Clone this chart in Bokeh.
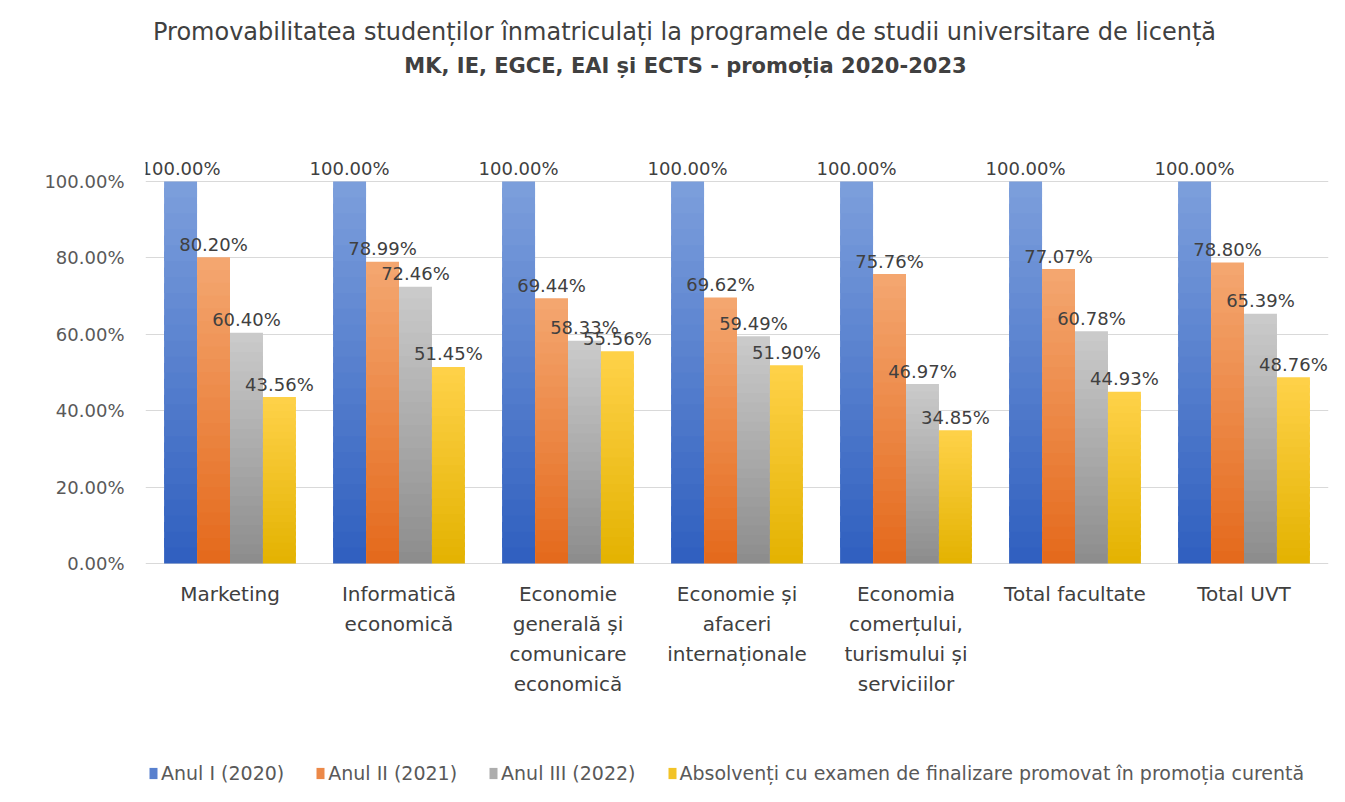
import numpy as np
from bokeh.plotting import figure
from bokeh.models import (Range1d, FixedTicker, PrintfTickFormatter, ColumnDataSource,
                          Legend, LegendItem)
from bokeh.transform import dodge
from bokeh.core.properties import value
from bokeh.embed import file_html
from bokeh.resources import INLINE

# ---------------- data ----------------
categories = ["Marketing", "Informatică economică", "Economie generală și comunicare economică",
              "Economie și afaceri internaționale", "Economia comerțului, turismului și serviciilor",
              "Total facultate", "Total UVT"]
category_labels = ["Marketing", "Informatică\neconomică", "Economie\ngenerală și\ncomunicare\neconomică",
                   "Economie și\nafaceri\ninternaționale", "Economia\ncomerțului,\nturismului și\nserviciilor",
                   "Total facultate", "Total UVT"]
series_names = ["Anul I (2020)", "Anul II (2021)", "Anul III (2022)",
                "Absolvenți cu examen de finalizare promovat în promoția curentă"]
anul_1 = [100.00, 100.00, 100.00, 100.00, 100.00, 100.00, 100.00]
anul_2 = [80.20, 78.99, 69.44, 69.62, 75.76, 77.07, 78.80]
anul_3 = [60.40, 72.46, 58.33, 59.49, 46.97, 60.78, 65.39]
absolventi = [43.56, 51.45, 55.56, 51.90, 34.85, 44.93, 48.76]
y_ticks = [0, 20, 40, 60, 80, 100]
title_1 = "Promovabilitatea studenților înmatriculați la programele de studii universitare de licență"
title_2 = "MK, IE, EGCE, EAI și ECTS - promoția 2020-2023"

series_values = [anul_1, anul_2, anul_3, absolventi]
# gradient colours (top, bottom)
grad = [("#7d9fdc", "#2f5fbf"), ("#f4a771", "#e4691b"), ("#cbcbcb", "#8c8c8c"), ("#ffd24a", "#e3b200")]

FONT = "DejaVu Sans"
TXT = "#404040"
AX = "#595959"

# ---------------- layout (page pixels) ----------------
W, H = 1345, 800
FL, FR = 145, 1328          # frame left/right (page px)
FT, FB = 0, H               # frame top/bottom (page px)
Y0, Y100 = 563, 181         # page y of 0% and 100%
ppu = (Y0 - Y100) / 100.0
ncat = len(categories)
ppc = (FR - FL) / ncat

def dx(px):
    return (px - FL) / ppc - 0.5

def dy(py):
    return (Y0 - py) / ppu

p = figure(width=W, height=H, output_backend="svg", toolbar_location=None,
           x_range=Range1d(-0.5, ncat - 0.5), y_range=Range1d(dy(FB), dy(FT)),
           x_axis_location=None,
           min_border_left=FL, min_border_right=W - FR,
           min_border_top=0, min_border_bottom=0)
p.outline_line_color = None
p.background_fill_color = "white"
p.border_fill_color = "white"

def hex2rgb(h):
    return np.array([int(h[i:i + 2], 16) for i in (1, 3, 5)], dtype=float)

def mix(c_top, c_bot, t):
    a, b = hex2rgb(c_top), hex2rgb(c_bot)
    c = b + (a - b) * t
    return "#%02x%02x%02x" % tuple(int(round(v)) for v in c)

N = 24
bw = 0.195
offsets = [-1.5 * bw, -0.5 * bw, 0.5 * bw, 1.5 * bw]
xs = np.arange(ncat)
legend_items = []
for s, vals in enumerate(series_values):
    vals = np.array(vals, dtype=float)
    xx, bb, tt, cc = [], [], [], []
    for k in range(N):
        col = mix(grad[s][0], grad[s][1], (k + 0.5) / N)
        for i in range(len(vals)):
            xx.append(xs[i])
            bb.append(vals[i] * k / N)
            tt.append(min(vals[i], vals[i] * (k + 1.6) / N))
            cc.append(col)
    src = ColumnDataSource(dict(x=xx, bottom=bb, top=tt, color=cc))
    r = p.vbar(x=dodge("x", offsets[s]), bottom="bottom", top="top", width=bw,
               fill_color="color", line_color=None, source=src)
    legend_items.append(LegendItem(label=series_names[s], renderers=[r], index=(N // 2) * len(vals)))

# data labels
for s, vals in enumerate(series_values):
    lsrc = ColumnDataSource(dict(x=xs, y=vals, t=["%.2f%%" % v for v in vals]))
    p.text(x=dodge("x", offsets[s]), y="y", text="t", source=lsrc,
           text_align="center", text_baseline="middle", y_offset=-13,
           text_font=value(FONT), text_font_size="18px", text_color=TXT)

# category labels (below the 0 line)
csrc = ColumnDataSource(dict(x=xs, y=[0] * ncat, t=category_labels))
p.text(x="x", y="y", text="t", source=csrc, text_align="center", text_baseline="top",
       y_offset=18, text_line_height=1.25,
       text_font=value(FONT), text_font_size="20px", text_color=TXT)

# titles
p.text(x="x", y="y", text="t", source=ColumnDataSource(dict(x=[dx(684)], y=[dy(31)], t=[title_1])),
       text_align="center", text_baseline="middle",
       text_font=value(FONT), text_font_size="24px", text_color=TXT)
p.text(x="x", y="y", text="t", source=ColumnDataSource(dict(x=[dx(685)], y=[dy(65)], t=[title_2])),
       text_align="center", text_baseline="middle", text_font_style="bold",
       text_font=value(FONT), text_font_size="21px", text_color=TXT)

# y axis
p.yaxis.ticker = FixedTicker(ticks=y_ticks)
p.yaxis.formatter = PrintfTickFormatter(format="%.2f%%")
p.yaxis.axis_line_color = None
p.yaxis.major_tick_line_color = None
p.yaxis.minor_tick_line_color = None
p.yaxis.major_label_standoff = 15
p.yaxis.major_label_text_font = FONT
p.yaxis.major_label_text_font_size = "18px"
p.yaxis.major_label_text_color = AX

p.xgrid.grid_line_color = None
p.ygrid.ticker = FixedTicker(ticks=y_ticks)
p.ygrid.grid_line_color = "#d9d9d9"
p.ygrid.grid_line_width = 1

legend = Legend(items=legend_items, orientation="horizontal",
                location=(3, H - 784),
                label_text_font=FONT, label_text_font_size="19px", label_text_color=AX,
                glyph_width=10, glyph_height=14, label_standoff=3, spacing=31,
                padding=0, margin=0,
                border_line_color=None, background_fill_alpha=0)
p.add_layout(legend, "center")

open("out.html", "w").write(file_html(p, INLINE))
